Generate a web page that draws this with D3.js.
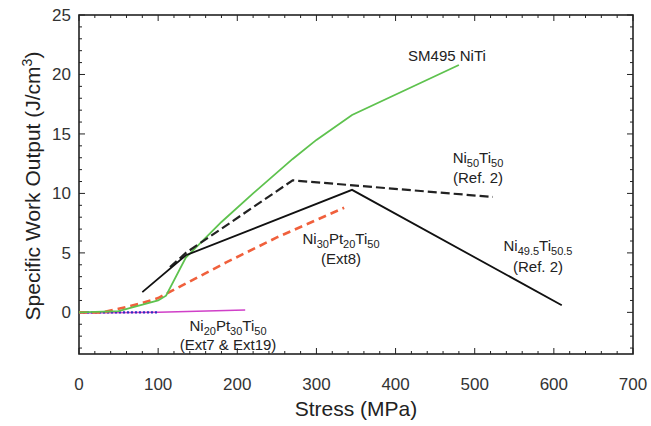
<!DOCTYPE html>
<html><head><meta charset="utf-8">
<script src="https://cdn.jsdelivr.net/npm/d3@7"></script>
<style>body{margin:0;background:#fff}svg{display:block}</style>
</head><body><svg id="c" width="651" height="426"></svg>
<script>
const xTicks = [0,100,200,300,400,500,600,700];
const yTicks = [0,5,10,15,20,25];
const sm495 = [[0,0],[50,0.1],[100,1.0],[110,1.4],[135,4.6],[180,7.6],[220,10.0],[270,12.9],[300,14.5],[345,16.6],[480,20.8]];
const ni50 = [[115,3.8],[135,5.0],[270,11.1],[523,9.7]];
const ni495 = [[80,1.7],[135,4.8],[345,10.3],[610,0.6]];
const ni30 = [[0,0],[30,0],[50,0.3],[75,0.7],[100,1.2],[140,2.6],[186,4.2],[250,6.3],[335,8.8]];
const ni20 = [[0,-0.05],[100,0],[210,0.2]];
const ni20b = [[0,0],[100,0]];

const svg = d3.select('#c');
const L=79,R=633,T=15,B=354;
const x = d3.scaleLinear().domain([0,700]).range([L,R]);
const y = d3.scaleLinear().domain([-3.5,25]).range([B,T]);
const font = "'Liberation Sans', Arial, sans-serif";

const g = svg.append('g');
const xMinor = d3.range(0,701,20), yMinor = d3.range(-3,26,1);
const tk = g.append('g').attr('stroke','#222').attr('stroke-width',1);
xMinor.forEach(v=>{const len = v%100===0?6:3;
  tk.append('line').attr('x1',x(v)).attr('x2',x(v)).attr('y1',B).attr('y2',B-len);
  tk.append('line').attr('x1',x(v)).attr('x2',x(v)).attr('y1',T).attr('y2',T+len);});
yMinor.forEach(v=>{const len = v%5===0?6:3;
  tk.append('line').attr('y1',y(v)).attr('y2',y(v)).attr('x1',L).attr('x2',L+len);
  tk.append('line').attr('y1',y(v)).attr('y2',y(v)).attr('x1',R).attr('x2',R-len);});
g.append('rect').attr('x',L).attr('y',T).attr('width',R-L).attr('height',B-T)
  .attr('fill','none').attr('stroke','#222').attr('stroke-width',1.6);

xTicks.forEach(v=>g.append('text').attr('x',x(v)).attr('y',390).attr('text-anchor','middle')
  .attr('font-family',font).attr('font-size',17).attr('fill','#333').text(v));
yTicks.forEach(v=>g.append('text').attr('x',71).attr('y',y(v)+6).attr('text-anchor','end')
  .attr('font-family',font).attr('font-size',17).attr('fill','#333').text(v));

g.append('text').attr('x',356).attr('y',416).attr('text-anchor','middle')
  .attr('font-family',font).attr('font-size',21).attr('fill','#222').text('Stress (MPa)');
const yt = g.append('text').attr('transform','translate(40,186) rotate(-90)').attr('text-anchor','middle')
  .attr('font-family',font).attr('font-size',21).attr('fill','#222');
yt.append('tspan').text('Specific Work Output (J/cm');
yt.append('tspan').attr('dy',-8).attr('font-size',14).text('3');
yt.append('tspan').attr('dy',8).text(')');

const line = d3.line().x(d=>x(d[0])).y(d=>y(d[1]));
const draw = (data,col,w,dash)=>g.append('path').attr('d',line(data)).attr('fill','none')
  .attr('stroke',col).attr('stroke-width',w).attr('stroke-dasharray',dash||null);
draw(ni20,'#d040c8',1.5);
draw(ni20b,'#3030c0',2.2,'2,2');
draw(ni30,'#f0603c',2.6,'8,5');
draw(sm495,'#5ec24e',1.8);
draw(ni50,'#222',2.2,'9,4');
draw(ni495,'#111',1.8);

function lab(cx,cy,parts){
  const t = g.append('text').attr('x',cx).attr('y',cy).attr('text-anchor','middle')
   .attr('font-family',font).attr('font-size',15).attr('fill','#222');
  let sub=false;
  parts.forEach(p=>{
    const isSub = typeof p!=='string';
    const dy = isSub && !sub ? 4 : (!isSub && sub ? -4 : 0);
    t.append('tspan').attr('dy',dy).attr('font-size',isSub?11:15).text(isSub?p[0]:p);
    sub=isSub;
  });
}
lab(447,61,['SM495 NiTi']);
lab(478,163,['Ni',['50'],'Ti',['50']]);
lab(478,183,['(Ref. 2)']);
lab(341,244,['Ni',['30'],'Pt',['20'],'Ti',['50']]);
lab(341,264,['(Ext8)']);
lab(538,251,['Ni',['49.5'],'Ti',['50.5']]);
lab(538,272,['(Ref. 2)']);
lab(228,331,['Ni',['20'],'Pt',['30'],'Ti',['50']]);
lab(228,350,['(Ext7 & Ext19)']);
</script></body></html>
